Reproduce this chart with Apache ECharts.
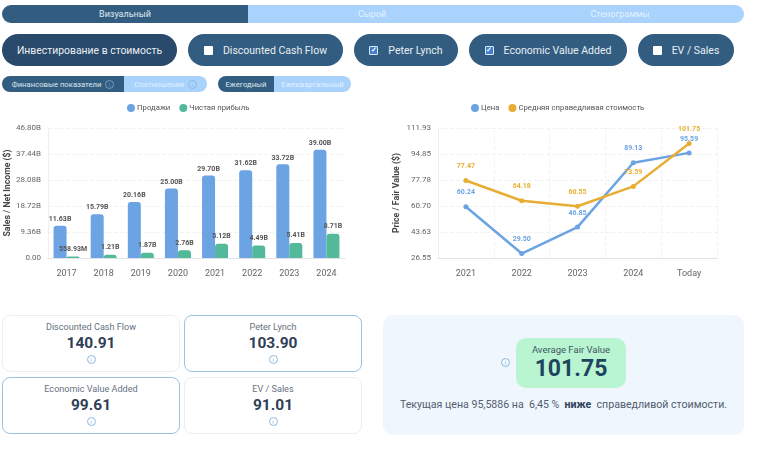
<!DOCTYPE html>
<html>
<head>
<meta charset="utf-8">
<script src="https://cdn.jsdelivr.net/npm/echarts@6/dist/echarts.min.js"></script>
<style>
  html, body { margin: 0; padding: 0; background: #fff; }
  body { width: 758px; height: 449px; position: relative; overflow: hidden; font-family: Roboto, "Noto Sans", sans-serif; }
  .abs { position: absolute; box-sizing: border-box; display: flex; align-items: center; justify-content: center; white-space: nowrap; }
  .pill { top: 34px; height: 32px; border-radius: 16px; background: #335d80; color: #e8eef3; font-size: 10.5px; }
  .box { width: 9px; height: 9px; margin-right: 10px; background: #fff; border-radius: 1px; font-size: 7px; line-height: 9px; text-align: center; color: #fff; box-sizing: border-box; }
  .box.on { background: #3f7fd0; border: 1px solid #dbe9fb; line-height: 7px; font-weight: bold; }
  .seg { height: 16px; top: 76px; font-size: 7.7px; }
  .dark { background: #335d80; color: #dfe8ef; }
  .light { background: #a9d3fd; color: #e4f1fe; }
  .i { display: inline-block; width: 7px; height: 7px; border: 1px solid #8db9df; border-radius: 50%; font-size: 6px; line-height: 7px; text-align: center; color: #8db9df; box-sizing: content-box; }
  .card { width: 178px; height: 57px; background: #fff; border: 1px solid #eaeef1; border-radius: 8px; flex-direction: column; justify-content: flex-start; padding-top: 6px; color: #66727e; font-size: 9.1px; }
  .card.on { border: 1.3px solid #9cc3de; }
  .card b { color: #2e4057; font-size: 15.5px; line-height: 20px; margin-top: 1px; }
  .card .i { margin-top: 2px; }
  #chart1, #chart2 { position: absolute; top: 95px; height: 190px; }
</style>
</head>
<body>
<div class="abs dark" style="left:2px;top:5px;width:246px;height:18px;border-radius:9px 0 0 9px;font-size:9px;background:#335d80">Визуальный</div>
<div class="abs light" style="left:248px;top:5px;width:248px;height:18px;font-size:9px">Сырой</div>
<div class="abs light" style="left:496px;top:5px;width:248px;height:18px;border-radius:0 9px 9px 0;font-size:9px">Стенограммы</div>

<div class="abs pill" style="left:2px;width:175px;background:#2a4a6b;font-size:10.4px">Инвестирование в стоимость</div>
<div class="abs pill" style="left:188px;width:155px"><span class="box"></span>Discounted Cash Flow</div>
<div class="abs pill" style="left:354px;width:104px"><span class="box on">✓</span>Peter Lynch</div>
<div class="abs pill" style="left:469px;width:158px"><span class="box on">✓</span>Economic Value Added</div>
<div class="abs pill" style="left:638px;width:96px"><span class="box"></span>EV / Sales</div>

<div class="abs seg dark" style="left:2px;width:122px;border-radius:8px 0 0 8px">Финансовые показатели&nbsp;&nbsp;<span class="i" style="border-color:#6f9cc4;color:#6f9cc4">i</span></div>
<div class="abs seg light" style="left:124px;width:83px;border-radius:0 8px 8px 0">Соотношения&nbsp;&nbsp;<span class="i">i</span></div>
<div class="abs seg dark" style="left:218px;width:56px;border-radius:8px 0 0 8px">Ежегодный</div>
<div class="abs seg light" style="left:274px;width:77px;border-radius:0 8px 8px 0">Ежеквартальный</div>

<div id="chart1" style="left:0;width:360px"></div>
<div id="chart2" style="left:380px;width:350px"></div>

<div class="abs card" style="left:2px;top:315px">Discounted Cash Flow<b>140.91</b><span class="i">i</span></div>
<div class="abs card on" style="left:184px;top:315px">Peter Lynch<b>103.90</b><span class="i">i</span></div>
<div class="abs card on" style="left:2px;top:377px">Economic Value Added<b>99.61</b><span class="i">i</span></div>
<div class="abs card" style="left:184px;top:377px">EV / Sales<b>91.01</b><span class="i">i</span></div>

<div class="abs" style="left:383px;top:315px;width:361px;height:120px;background:#eff6fe;border-radius:10px"></div>
<span class="abs i" style="left:501px;top:358px">i</span>
<div class="abs" style="left:516px;top:338px;width:110px;height:50px;background:#b9f5d0;border-radius:10px;flex-direction:column;color:#3c5566;font-size:9.5px">Average Fair Value<b style="color:#1e4460;font-size:23px;line-height:27px">101.75</b></div>
<div class="abs" style="left:383px;top:397px;width:361px;height:14px;color:#51606f;font-size:10.6px;white-space:pre">Текущая цена 95,5886 на  6,45 %  <b style="color:#2e4057">ниже</b>  справедливой стоимости.</div>

<script>
// данные первого графика
const years = ['2017', '2018', '2019', '2020', '2021', '2022', '2023', '2024'];
const sales = [11.63, 15.79, 20.16, 25.00, 29.70, 31.62, 33.72, 39.00];
const netIncome = [0.55893, 1.21, 1.87, 2.76, 5.12, 4.49, 5.41, 8.71];

// данные второго графика
const periods = ['2021', '2022', '2023', '2024', 'Today'];
const price = [60.24, 29.50, 46.85, 89.13, 95.59];
const fairValue = [77.47, 64.18, 60.55, 73.59, 101.75];

const blue = '#6ba3e3';
const green = '#52b99b';
const orange = '#e8ae33';
const fontFamily = 'Roboto, "Noto Sans", sans-serif';

const formatMoney = (v) => v < 1 ? (v * 1000).toFixed(2) + 'M' : v.toFixed(2) + 'B';

const legendStyle = (data, left) => ({
  data: data,
  top: 4,
  left: left,
  icon: 'circle',
  itemWidth: 8,
  itemHeight: 8,
  itemGap: 9,
  textStyle: { fontSize: 7.75, color: '#555', padding: [0, 0, 0, -3], fontFamily }
});

const splitStyle = { show: true, lineStyle: { color: '#f0f2f4', type: 'dashed', width: 1 } };
const nameStyle = { fontSize: 8.7, fontWeight: 'bold', color: '#444', fontFamily };

const chart1 = echarts.init(document.getElementById('chart1'));
chart1.setOption({
  animation: false,
  legend: legendStyle(['Продажи', 'Чистая прибыль'], 122),
  grid: { left: 48, right: 15, top: 33, bottom: 27, outerBoundsMode: 'none' },
  xAxis: {
    type: 'category',
    data: years,
    axisLine: { lineStyle: { color: '#dfe3e6' } },
    axisTick: { lineStyle: { color: '#dfe3e6' } },
    axisLabel: { fontSize: 9, color: '#666', margin: 11, fontFamily }
  },
  yAxis: {
    type: 'value',
    min: 0,
    max: 46.8,
    interval: 9.36,
    name: 'Sales / Net Income ($)',
    nameLocation: 'middle',
    nameGap: 36,
    nameMoveOverlap: false,
    nameTextStyle: nameStyle,
    axisLine: { show: true, lineStyle: { color: '#eef0f2' } },
    axisTick: { show: false },
    axisLabel: { fontSize: 8, color: '#666', margin: 7, formatter: (v) => v === 0 ? '0.00' : v.toFixed(2) + 'B', fontFamily },
    splitLine: splitStyle
  },
  series: [
    {
      name: 'Продажи', type: 'bar', data: sales, barWidth: 13, barGap: '0%',
      itemStyle: { color: blue, borderRadius: [3, 3, 0, 0] },
      label: { show: true, position: 'top', distance: 3, fontSize: 7, fontWeight: 'bold', color: '#555', formatter: (p) => formatMoney(p.value), fontFamily }
    },
    {
      name: 'Чистая прибыль', type: 'bar', data: netIncome, barWidth: 13,
      itemStyle: { color: green, borderRadius: [3, 3, 0, 0] },
      label: { show: true, position: 'top', distance: 4, fontSize: 7, fontWeight: 'bold', color: '#555', formatter: (p) => formatMoney(p.value), fontFamily }
    }
  ]
});

const chart2 = echarts.init(document.getElementById('chart2'));
chart2.setOption({
  animation: false,
  legend: legendStyle(['Цена', 'Средняя справедливая стоимость'], 86),
  grid: { left: 58, right: 13, top: 33, bottom: 27, outerBoundsMode: 'none' },
  xAxis: {
    type: 'category',
    data: periods,
    axisLine: { lineStyle: { color: '#dfe3e6' } },
    axisTick: { lineStyle: { color: '#dfe3e6' } },
    axisLabel: { fontSize: 9, color: '#666', margin: 11, fontFamily },
    splitLine: splitStyle
  },
  yAxis: {
    type: 'value',
    min: 26.55,
    max: 111.93,
    interval: 17.076,
    name: 'Price / Fair Value ($)',
    nameLocation: 'middle',
    nameGap: 37,
    nameMoveOverlap: false,
    nameTextStyle: nameStyle,
    axisLine: { show: true, lineStyle: { color: '#eef0f2' } },
    axisTick: { show: false },
    axisLabel: { fontSize: 8, color: '#666', margin: 7, formatter: (v) => v.toFixed(2), fontFamily },
    splitLine: splitStyle
  },
  series: [
    {
      name: 'Цена', type: 'line', data: price, symbol: 'circle', symbolSize: 5,
      lineStyle: { color: blue, width: 2.5 }, itemStyle: { color: blue },
      label: { show: true, position: 'top', distance: 8, fontSize: 7, fontWeight: 'bold', color: blue, formatter: (p) => p.value.toFixed(2), fontFamily }
    },
    {
      name: 'Средняя справедливая стоимость', type: 'line', data: fairValue, symbol: 'circle', symbolSize: 5,
      lineStyle: { color: orange, width: 2.5 }, itemStyle: { color: orange },
      label: { show: true, position: 'top', distance: 8, fontSize: 7, fontWeight: 'bold', color: orange, formatter: (p) => p.value.toFixed(2), fontFamily }
    }
  ]
});
</script>
</body>
</html>
